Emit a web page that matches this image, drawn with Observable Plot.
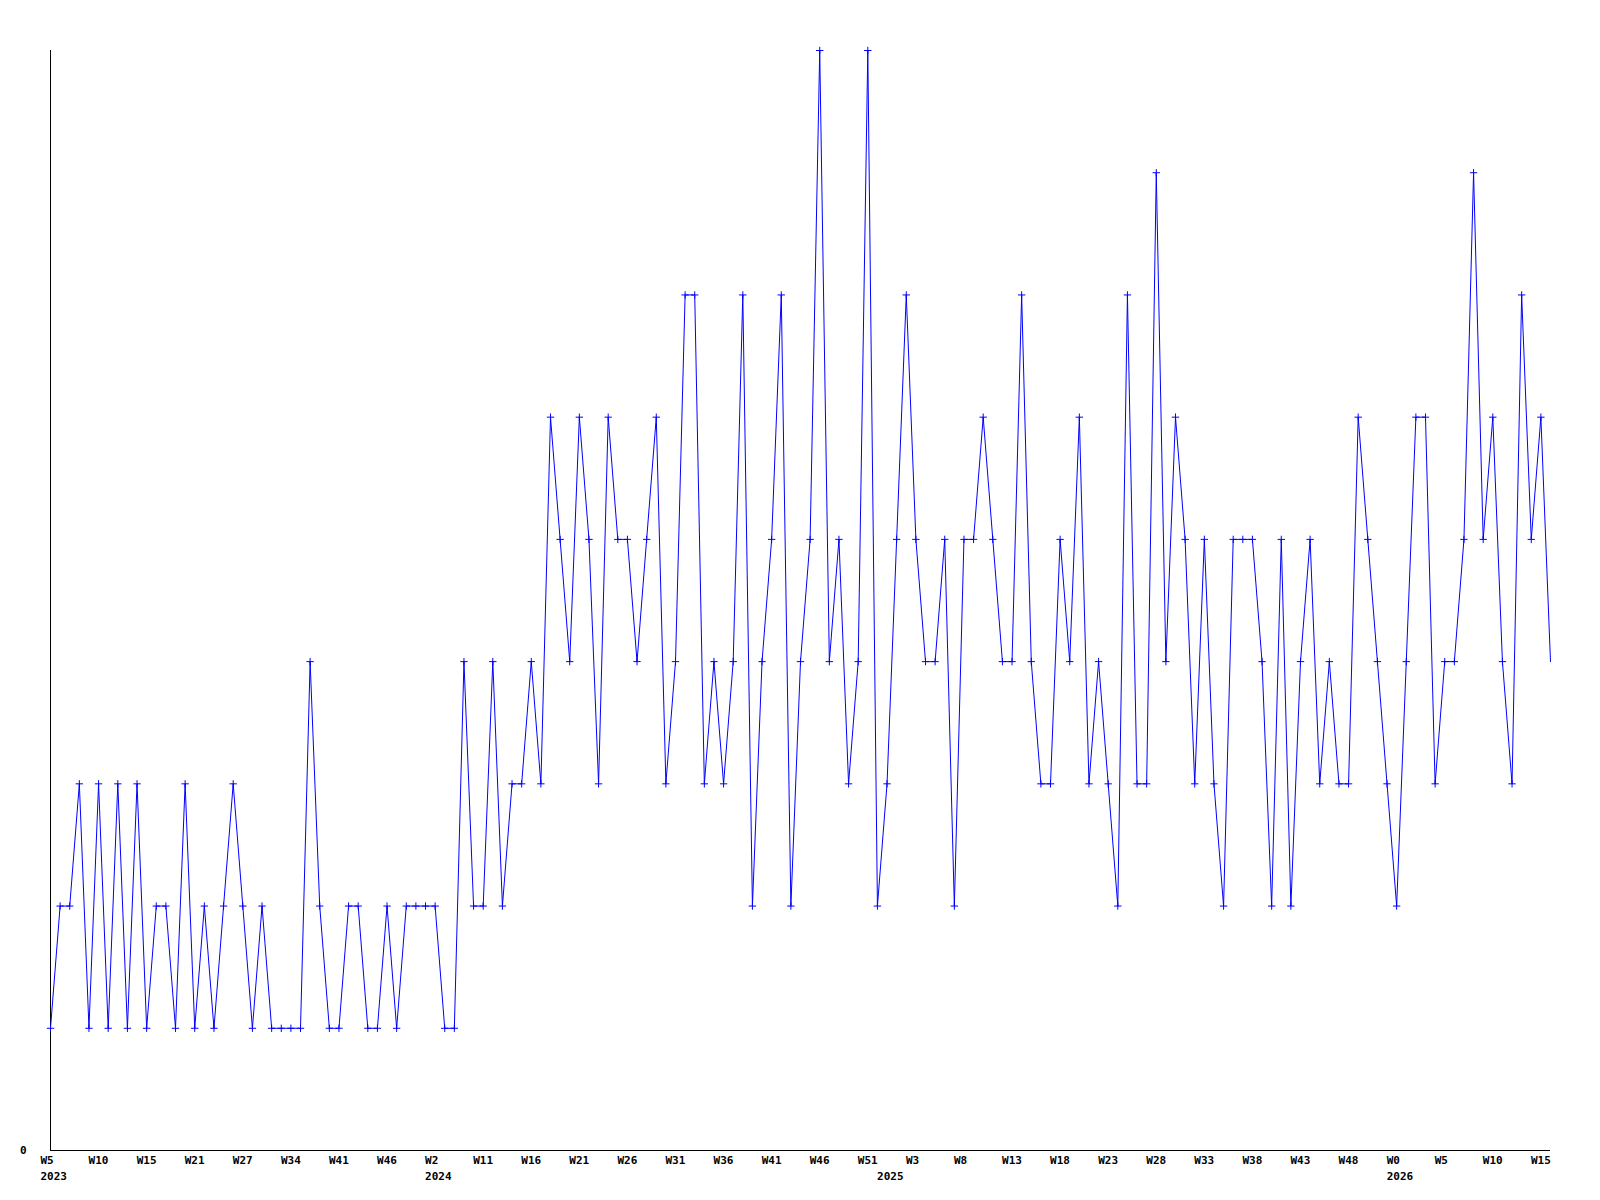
<!DOCTYPE html>
<html>
<head>
<meta charset="utf-8">
<script src="https://cdn.jsdelivr.net/npm/d3@7"></script>
<script src="https://cdn.jsdelivr.net/npm/@observablehq/plot@0.6"></script>
<style>
  html, body { margin: 0; padding: 0; background: #ffffff; }
  #chart svg { display: block; }
</style>
</head>
<body>
<div id="chart"></div>
<script>
// Weekly values, 2023 W5 .. 2026 W16 (one value per plotted week)
const values = [
  1,2,2,3,1,3,1,3,1,3,
  1,2,2,1,3,1,2,1,2,3,
  2,1,2,1,1,1,1,4,2,1,
  1,2,2,1,1,2,1,2,2,2,
  2,1,1,4,2,2,4,2,3,3,
  4,3,6,5,4,6,5,3,6,5,
  5,4,5,6,3,4,7,7,3,4,
  3,4,7,2,4,5,7,2,4,5,
  9,4,5,3,4,9,2,3,5,7,
  5,4,4,5,2,5,5,6,5,4,
  4,7,4,3,3,5,4,6,3,4,
  3,2,7,3,3,8,4,6,5,3,
  5,3,2,5,5,5,4,2,5,2,
  4,5,3,4,3,3,6,5,4,3,
  2,4,6,6,3,4,4,5,8,5,
  6,4,3,7,5,6,4
];

// Week tick labels, one every 5 points
const tickWeeks = [
  "W5","W10","W15","W21","W27","W34","W41","W46",
  "W2","W11","W16","W21","W26","W31","W36","W41","W46","W51",
  "W3","W8","W13","W18","W23","W28","W33","W38","W43","W48",
  "W0","W5","W10","W15"
];
const tickStep = 5;

// Year labels, placed at the first plotted week of each year
const years = ["2023", "2024", "2025", "2026"];
const yearStartIdx = [0, 40, 87, 140];

const data = values.map((v, i) => ({i, v}));
const tickIdx = tickWeeks.map((_, k) => k * tickStep);
const weekLabel = new Map(tickIdx.map((t, k) => [t, tickWeeks[k]]));
const yearLabel = new Map(yearStartIdx.map((t, k) => [t, years[k]]));

const font = "'DejaVu Sans Mono', 'Liberation Mono', monospace";
const textStyle = {fontSize: 11, fontWeight: "bold", fontFamily: font, fill: "black"};

const chart = Plot.plot({
  width: 1600,
  height: 1200,
  marginLeft: 50,
  marginRight: 50,
  marginTop: 50,
  marginBottom: 50,
  style: {background: "#ffffff", fontFamily: font},
  x: {type: "linear", domain: [0, values.length - 1], axis: null, label: null},
  y: {domain: [0, 9], axis: null, label: null},
  marks: [
    Plot.ruleX([0], {stroke: "black", strokeWidth: 1}),
    Plot.ruleY([0], {stroke: "black", strokeWidth: 1}),
    Plot.axisY({
      ticks: [0], tickSize: 0, tickPadding: 24, label: null,
      tickFormat: d => String(d), ...textStyle
    }),
    Plot.axisX({
      ticks: tickIdx, tickSize: 0, tickPadding: 6, label: null,
      tickFormat: d => weekLabel.get(d) ?? "",
      textAnchor: "start", dx: -10, ...textStyle
    }),
    Plot.axisX({
      ticks: yearStartIdx, tickSize: 0, tickPadding: 22, label: null,
      tickFormat: d => yearLabel.get(d) ?? "",
      textAnchor: "start", dx: -10, ...textStyle
    }),
    Plot.line(data, {x: "i", y: "v", stroke: "#0000ff", strokeWidth: 1}),
    Plot.dot(data.slice(0, -1), {x: "i", y: "v", symbol: "plus", r: 2.5, stroke: "#0000ff", strokeWidth: 1, fill: "none"})
  ]
});

document.getElementById("chart").appendChild(chart);
</script>
</body>
</html>
